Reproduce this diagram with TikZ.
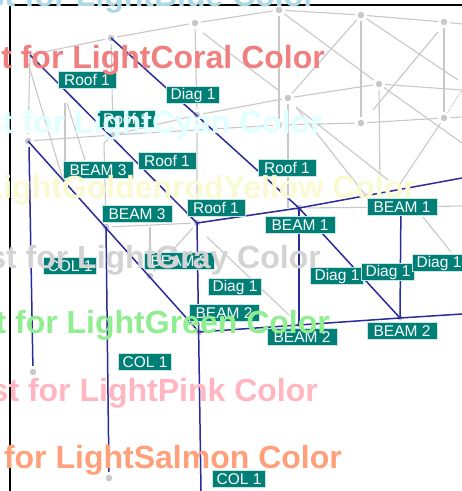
\documentclass[tikz,border=0pt]{standalone}
\usepackage{fontspec}
\setmainfont{Liberation Sans}
\definecolor{navyline}{HTML}{2B2B9B}
\definecolor{meshgray}{HTML}{C8C8C8}
\definecolor{tagteal}{HTML}{007F77}
\definecolor{LBlue}{HTML}{ADD8E6}
\definecolor{LCoral}{HTML}{F08080}
\definecolor{LCyan}{HTML}{E0FFFF}
\definecolor{LGold}{HTML}{FAFAD2}
\definecolor{LGray}{HTML}{D3D3D3}
\definecolor{LGreen}{HTML}{90EE90}
\definecolor{LPink}{HTML}{FFB6C1}
\definecolor{LSalmon}{HTML}{FFA07A}
\tikzset{
  x=1pt,y=-1pt,
  mesh/.style={draw=meshgray,line width=1.1pt},
  member/.style={draw=navyline,line width=1.5pt},
  joint/.style={circle,fill=meshgray,inner sep=0pt,minimum size=6.5pt,outer sep=3pt},
  tag/.style={fill=tagteal,draw=white!80!tagteal,line width=0.4pt,text=white,inner sep=0pt,
    minimum height=17pt,font=\fontsize{15.5}{16}\selectfont},
  tagroof/.style={tag,minimum width=58pt},
  tagbeam/.style={tag,minimum width=70pt},
  tagcol/.style={tag,minimum width=53pt},
  tagdiag/.style={tag,minimum width=53pt},
  overprint/.style={anchor=base east,inner sep=0pt,font=\fontsize{32}{33}\selectfont\bfseries},
}
\begin{document}
\begin{tikzpicture}
\useasboundingbox (0,0) rectangle (462,491);
\clip (0,0) rectangle (462,491);
\fill[white] (0,0) rectangle (462,491);
\draw[black,line width=1.4pt] (462,5) -- (10,5) -- (10,491);

% joints
\node[joint] (t1) at (111,38) {};
\node[joint] (t2) at (195,23) {};
\node[joint] (t3) at (279,10) {};
\node[joint] (t4) at (361,15) {};
\node[joint] (t5) at (444,22) {};
\coordinate (t0) at (30,55);
\node[joint] (m2) at (197,115) {};
\node[joint] (m3) at (288,98) {};
\node[joint] (m4) at (379,84) {};
\coordinate (m5) at (462,90);
\node[joint] (r0) at (28,141) {};
\node[joint] (r1) at (113,135) {};
\node[joint] (r2) at (279,125) {};
\node[joint] (r3) at (361,123) {};
\node[joint] (r4) at (444,118) {};
\coordinate (r5) at (462,117);
\node[joint] (b1) at (106,227) {};
\node[joint] (b2) at (197,223) {};
\node[joint] (b3) at (299,208) {};
\coordinate (b4) at (401,207);
\coordinate (b5) at (462,206);
\node[joint] (d1) at (150,276) {};
\node[joint] (l1) at (199,332) {};
\node[joint,minimum size=5pt] (l2) at (299,325) {};
\node[joint,minimum size=5pt] (l3) at (400,318) {};
\node[joint] (f1) at (33,372) {};
\node[joint] (f2) at (109,478) {};
\coordinate (f3) at (201,491);
\coordinate (u5) at (462,178);
\coordinate (l5) at (462,314);

% grey mesh
\draw[mesh] (t0) -- (t1) -- (t2) -- (t3) -- (t4) -- (t5) -- (462,24);
\draw[mesh] (r1) -- (m2) -- (m3) -- (m4) -- (m5);
\draw[mesh] (r0) -- (r1) -- (r2) -- (r3) -- (r4) -- (r5);
\draw[mesh] (b1) -- (b2) -- (b3) -- (b4) -- (b5);
\draw[mesh] (t0) -- (r0);
\draw[mesh] (t1) -- (r1);
\draw[mesh] (t2) -- (m2) -- (b2);
\draw[mesh] (t3) -- (r2);
\draw[mesh] (m3) -- (288,208);
\draw[mesh] (t4) -- (r3);
\draw[mesh] (m4) -- (380,190);
\draw[mesh] (t5) -- (r4);
\draw[mesh] (r1) -- (104,143) -- (b1);
\draw[mesh] (65,103) -- (65,190);
\draw[mesh] (150,227) -- (d1);
\draw[mesh] (28,63) -- (63,180);
\draw[mesh] (67,103) -- (85,160);
\draw[mesh] (203,33) -- (278,90);
\draw[mesh] (t3) -- (m4);
\draw[mesh] (t4) -- (m3);
\draw[mesh] (296,107) -- (388,180);
\draw[mesh] (296,107) -- (367,197);
\draw[mesh] (t4) -- (458,80);
\draw[mesh] (438,32) -- (373,110);
\draw[mesh] (m4) -- (462,143);
\draw[mesh] (r4) -- (398,187);
\draw[mesh,densely dotted] (r4) -- (m5);
\draw[mesh] (b2) -- (d1);
\draw[mesh] (207,237) -- (289,315);
\draw[mesh] (423,217) -- (451,252);

% blue members
\draw[member] (t0) -- (b2.center);
\draw[member] (t1.center) -- (b3.center) -- (l3.center);
\draw[member] (r0.center) -- (l1.center);
\draw[member] (29,147) -- (f1);
\draw[member] (b1.center) -- (f2);
\draw[member] (b2.center) -- (f3);
\draw[member] (b3.center) -- (l2.center);
\draw[member] (401,200) -- (l3.center);
\draw[member] (b2.center) -- (b3.center) -- (u5);
\draw[member] (l1.center) -- (l2.center) -- (l3.center) -- (l5);

% tags
\node[tagroof] (a1) at (87,80) {Roof 1};
\node[tagdiag] (a2) at (193,95) {Diag 1};
\node[tagroof] (a3) at (126,119) {Roof 1};
\node[tagroof] (a4) at (167,161) {Roof 1};
\node[tagbeam] (a5) at (98,170) {BEAM 3};
\node[tagbeam] (a6) at (137,214) {BEAM 3};
\node[tagroof] (a7) at (216,208) {Roof 1};
\node[tagroof] (a8) at (287,168) {Roof 1};
\node[tagbeam] (a9) at (300,225) {BEAM 1};
\node[tagbeam] (a10) at (402,207) {BEAM 1};
\node[tagcol] (a11) at (70,266) {COL 1};
\node[tagbeam] (a12) at (179,261) {BEAM 3};
\node[tagdiag] (a13) at (235,287) {Diag 1};
\node[tagbeam] (a14) at (224,313) {BEAM 2};
\node[tagcol] (a15) at (145,362) {COL 1};
\node[tagcol] (a16) at (239,479) {COL 1};
\node[tagbeam] (a17) at (302,337) {BEAM 2};
\node[tagbeam] (a18) at (402,331) {BEAM 2};
\node[tagdiag] (a19) at (337,276) {Diag 1};
\node[tagdiag] (a20) at (388,272) {Diag 1};
\node[tagdiag] (a21) at (439,263) {Diag 1};

% overprinted colour captions
\node[overprint,text=LBlue] (c1) at (316,6) {Test for LightBlue Color};
\node[overprint,text=LCoral] (c2) at (325,68) {Test for LightCoral Color};
\node[overprint,text=LCyan] (c3) at (323,133) {Test for LightCyan Color};
\node[overprint,text=LGold] (c4) at (416,198) {Test for LightGoldenrodYellow Color};
\node[overprint,text=LGray] (c5) at (321,268) {Test for LightGray Color};
\node[overprint,text=LGreen] (c6) at (330,333) {Test for LightGreen Color};
\node[overprint,text=LPink] (c7) at (318,401) {Test for LightPink Color};
\node[overprint,text=LSalmon] (c8) at (342,468) {Test for LightSalmon Color};
\end{tikzpicture}
\end{document}
